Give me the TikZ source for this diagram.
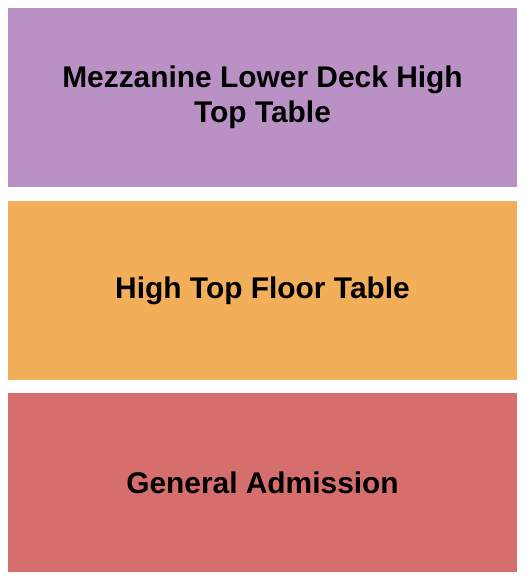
\documentclass[tikz,border=0pt]{standalone}
\usepackage{fontspec}
\setmainfont{Liberation Sans}
\definecolor{mezz}{RGB}{186,145,196}
\definecolor{hightop}{RGB}{243,174,89}
\definecolor{ga}{RGB}{214,110,110}
\begin{document}
\begin{tikzpicture}[x=1pt,y=-1pt,
  lbl/.style={font=\fontsize{29.9}{34.6}\selectfont\bfseries, text=black, align=center, inner sep=0pt}]
\useasboundingbox (0,0) rectangle (525,580);
\fill[white] (0,0) rectangle (525,580);
\fill[mezz] (8,8) rectangle (517,187);
\fill[hightop] (8,201) rectangle (517,380);
\fill[ga] (8,393) rectangle (517,572);
\node[lbl] (mezzlbl) at (262.5,97) {Mezzanine Lower Deck High\\Top Table};
\node[lbl] (htlbl) at (262.5,290.5) {High Top Floor Table};
\node[lbl] (galbl) at (262.5,483) {General Admission};
\end{tikzpicture}
\end{document}
